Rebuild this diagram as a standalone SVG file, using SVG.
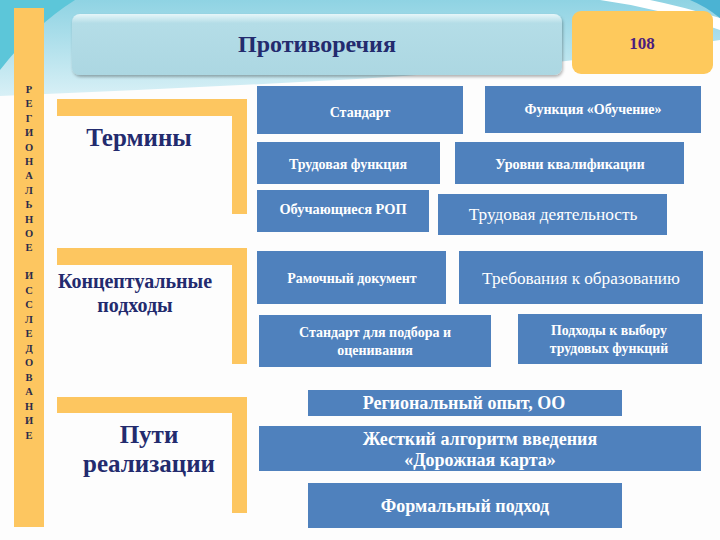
<svg xmlns="http://www.w3.org/2000/svg" width="720" height="540" viewBox="0 0 720 540">
<defs>
<linearGradient id="bg" x1="0" y1="0" x2="0" y2="1"><stop offset="0" stop-color="#8fd3e3"/><stop offset="1" stop-color="#d8f0f6"/></linearGradient>
<linearGradient id="tb" x1="0" y1="0" x2="0" y2="1"><stop offset="0" stop-color="#e6f6f9"/><stop offset="0.15" stop-color="#b4dde7"/><stop offset="1" stop-color="#acd7e2"/></linearGradient>
<filter id="sh" x="-5%" y="-10%" width="110%" height="130%"><feDropShadow dx="1" dy="2" stdDeviation="1.5" flood-color="#000" flood-opacity="0.3"/></filter>
</defs>
<style>
text{font-family:'Liberation Serif','Times New Roman','DejaVu Serif',serif}
.bx{fill:#4f81bd}
.or{fill:#fdc660}
.t{font-weight:bold;fill:#fff;text-anchor:middle}
.lbl{font-weight:bold;fill:#232b6e;text-anchor:middle}
.v{font-weight:bold;fill:#2a2a4a;text-anchor:middle;font-size:10.5px}
</style>
<rect width="720" height="540" fill="#fdfdfd"/>
<path d="M0,0 H720 V40 Q520,72 300,82 Q150,90 0,96 Z" fill="url(#bg)"/>
<path d="M0,0 H75 Q35,25 0,70 Z" fill="#5cc6d9"/>
<path d="M600,0 Q660,8 720,30 V18 Q680,6 650,0 Z" fill="#ffffff"/>
<path d="M690,0 H720 V18 Q705,6 690,0 Z" fill="#4bb3d3"/>

<g id="title"><rect x="72" y="14" width="490" height="61" rx="8" fill="url(#tb)" filter="url(#sh)"/><text x="317" y="52" class="lbl" font-size="24">Противоречия</text></g>
<g id="page"><rect x="572" y="11" width="141" height="63" rx="9" fill="#fec95c"/><text x="642" y="49" class="lbl" font-size="17" style="fill:#4b1d7e">108</text></g>

<g id="sidebar">
<rect x="14" y="8" width="30" height="519" class="or"/>
<text class="v"><tspan x="29" y="93">Р</tspan><tspan x="29" y="107.4">Е</tspan><tspan x="29" y="121.8">Г</tspan><tspan x="29" y="136.2">И</tspan><tspan x="29" y="150.6">О</tspan><tspan x="29" y="165">Н</tspan><tspan x="29" y="179.4">А</tspan><tspan x="29" y="193.8">Л</tspan><tspan x="29" y="208.2">Ь</tspan><tspan x="29" y="222.6">Н</tspan><tspan x="29" y="237">О</tspan><tspan x="29" y="251.4">Е</tspan></text>
<text class="v"><tspan x="29" y="279">И</tspan><tspan x="29" y="293.5">С</tspan><tspan x="29" y="308">С</tspan><tspan x="29" y="322.5">Л</tspan><tspan x="29" y="337">Е</tspan><tspan x="29" y="351.5">Д</tspan><tspan x="29" y="366">О</tspan><tspan x="29" y="380.5">В</tspan><tspan x="29" y="395">А</tspan><tspan x="29" y="409.5">Н</tspan><tspan x="29" y="424">И</tspan><tspan x="29" y="438.5">Е</tspan></text>
</g>

<g id="terms"><path d="M57,99 H247 V214 H232 V116 H57 Z" class="or"/><text x="139" y="146" class="lbl" font-size="25">Термины</text></g>
<g id="concepts"><path d="M57,248 H247 V364 H232 V265 H57 Z" class="or"/><text class="lbl" font-size="20"><tspan x="135" y="288">Концептуальные</tspan><tspan x="135" y="312">подходы</tspan></text></g>
<g id="ways"><path d="M57,397 H247 V513 H232 V413 H57 Z" class="or"/><text class="lbl" font-size="25"><tspan x="149" y="443">Пути</tspan><tspan x="149" y="472">реализации</tspan></text></g>

<g id="n1"><rect x="257" y="86" width="206" height="48" class="bx"/><text x="360" y="117" class="t" font-size="14">Стандарт</text></g>
<g id="n2"><rect x="485" y="86" width="216" height="47" class="bx"/><text x="593" y="114" class="t" font-size="14">Функция «Обучение»</text></g>
<g id="n3"><rect x="257" y="142" width="183" height="42" class="bx"/><text x="348" y="169" class="t" font-size="14">Трудовая функция</text></g>
<g id="n4"><rect x="455" y="142" width="229" height="42" class="bx"/><text x="570" y="169" class="t" font-size="14.3">Уровни квалификации</text></g>
<g id="n5"><rect x="257" y="190" width="172" height="42" class="bx"/><text x="343" y="214" class="t" font-size="14.4">Обучающиеся РОП</text></g>
<g id="n6"><rect x="438" y="194" width="229" height="41" class="bx"/><text x="553" y="220" class="t" font-size="17.3" style="font-weight:normal">Трудовая деятельность</text></g>
<g id="n7"><rect x="257" y="251" width="189" height="53" class="bx"/><text x="352" y="283" class="t" font-size="14">Рамочный документ</text></g>
<g id="n8"><rect x="459" y="251" width="244" height="53" class="bx"/><text x="581" y="284" class="t" font-size="17.2" style="font-weight:normal">Требования к образованию</text></g>
<g id="n9"><rect x="259" y="315" width="232" height="52" class="bx"/><text class="t" font-size="14"><tspan x="375" y="337">Стандарт для подбора и</tspan><tspan x="375" y="355">оценивания</tspan></text></g>
<g id="n10"><rect x="518" y="314" width="184" height="50" class="bx"/><text class="t" font-size="13.8"><tspan x="609" y="335">Подходы к выбору</tspan><tspan x="609" y="353">трудовых функций</tspan></text></g>
<g id="n11"><rect x="308" y="390" width="314" height="26" class="bx"/><text x="464" y="409" class="t" font-size="18">Региональный опыт, ОО</text></g>
<g id="n12"><rect x="259" y="426" width="442" height="45" class="bx"/><text class="t" font-size="18"><tspan x="480" y="445">Жесткий алгоритм введения</tspan><tspan x="480" y="466">«Дорожная карта»</tspan></text></g>
<g id="n13"><rect x="308" y="483" width="314" height="45" class="bx"/><text x="465" y="512" class="t" font-size="18">Формальный подход</text></g>
<g id="connectors"/>
</svg>
